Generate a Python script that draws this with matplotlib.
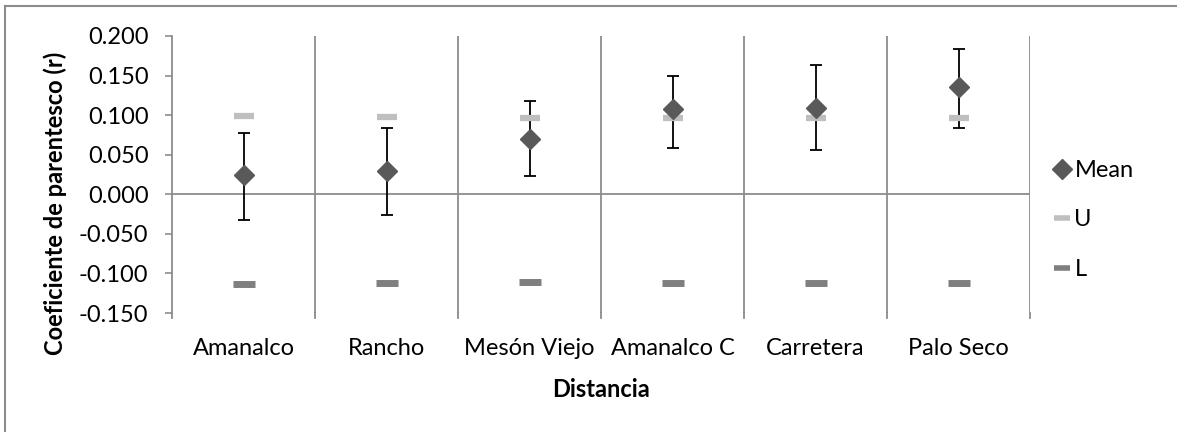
import matplotlib.pyplot as plt
from matplotlib.lines import Line2D
import numpy as np

# Relatedness per site
sites = ["Amanalco", "Rancho", "Mesón Viejo", "Amanalco C", "Carretera", "Palo Seco"]
mean_r = [0.024, 0.029, 0.070, 0.108, 0.109, 0.135]
err_hi = [0.078, 0.084, 0.118, 0.149, 0.163, 0.183]
err_lo = [-0.032, -0.026, 0.023, 0.059, 0.056, 0.084]
upper_ci = [0.099, 0.098, 0.097, 0.096, 0.097, 0.097]
lower_ci = [-0.113, -0.112, -0.111, -0.112, -0.112, -0.112]
yticks = [-0.150, -0.100, -0.050, 0.000, 0.050, 0.100, 0.150, 0.200]

plt.rcParams['font.family'] = ['Lato', 'DejaVu Sans']
FS = 17

fig = plt.figure(figsize=(11.77, 4.32), dpi=100)
ax = fig.add_axes([172 / 1177, 1 - 313 / 432, (1030 - 172) / 1177, (313 - 36) / 432])

grid_c = "#8c8c8c"
x = np.arange(len(sites))
mean_arr = np.array(mean_r)
yerr = np.vstack([mean_arr - np.array(err_lo), np.array(err_hi) - mean_arr])

ax.errorbar(x, mean_r, yerr=yerr, fmt='none', ecolor='black', elinewidth=1.3,
            capsize=4.5, capthick=1.3, zorder=3)
ax.plot(x, upper_ci, linestyle='none', marker='_', ms=15, mew=4.5,
        color='#bfbfbf', zorder=4, label='U')
ax.plot(x, lower_ci, linestyle='none', marker='_', ms=16, mew=5,
        color='#7f7f7f', zorder=4, label='L')
ax.plot(x, mean_r, linestyle='none', marker='D', ms=10, color='#595959',
        zorder=5, label='Mean')

ax.set_xlim(-0.5, len(sites) - 0.5)
ax.set_ylim(-0.150, 0.200)
ax.set_yticks(yticks)
ax.set_yticklabels([f"{v:.3f}" for v in yticks], fontsize=FS)
ax.set_xticks(x)
ax.set_xticklabels(sites, fontsize=FS)
ax.tick_params(axis='x', length=0, pad=18)
ax.tick_params(axis='y', length=5, width=1.2, color=grid_c, pad=12)

# category separators, with short ticks below the plot area
for b in np.arange(-0.5, len(sites), 1.0):
    if b > -0.5:
        ax.axvline(b, color=grid_c, lw=1.3, zorder=1)
    ax.plot([b, b], [-0.150, -0.1565], color=grid_c, lw=1.3, clip_on=False, zorder=1)
ax.axhline(0, color=grid_c, lw=1.3, zorder=1)

for s in ['top', 'right', 'bottom']:
    ax.spines[s].set_visible(False)
ax.spines['left'].set_color(grid_c)
ax.spines['left'].set_linewidth(1.3)

ax.set_xlabel("Distancia", fontsize=FS, fontweight='bold', labelpad=14)
ax.set_ylabel("Coeficiente de parentesco (r)", fontsize=FS, fontweight='bold',
              ha='center', va='center')
ax.yaxis.set_label_coords(-0.1364, 0.397)

handles = [
    Line2D([], [], linestyle='none', marker='D', ms=10, color='#595959'),
    Line2D([], [], linestyle='none', marker='_', ms=11, mew=4, color='#bfbfbf'),
    Line2D([], [], linestyle='none', marker='_', ms=11, mew=4, color='#7f7f7f'),
]
fig.legend(handles, ['Mean', 'U', 'L'], loc='center left',
           bbox_to_anchor=(1032 / 1177, 1 - 220 / 432), frameon=False,
           fontsize=FS, handlelength=0.7, handletextpad=0.2, labelspacing=1.2)

# outer chart border
fig.add_artist(Line2D([5 / 1177, 5 / 1177], [0, 1 - 6 / 432], transform=fig.transFigure,
                      color='#8c8c8c', lw=1.5))
fig.add_artist(Line2D([5 / 1177, 1], [1 - 6 / 432, 1 - 6 / 432], transform=fig.transFigure,
                      color='#8c8c8c', lw=1.5))

fig.savefig("out.png", dpi=100)
